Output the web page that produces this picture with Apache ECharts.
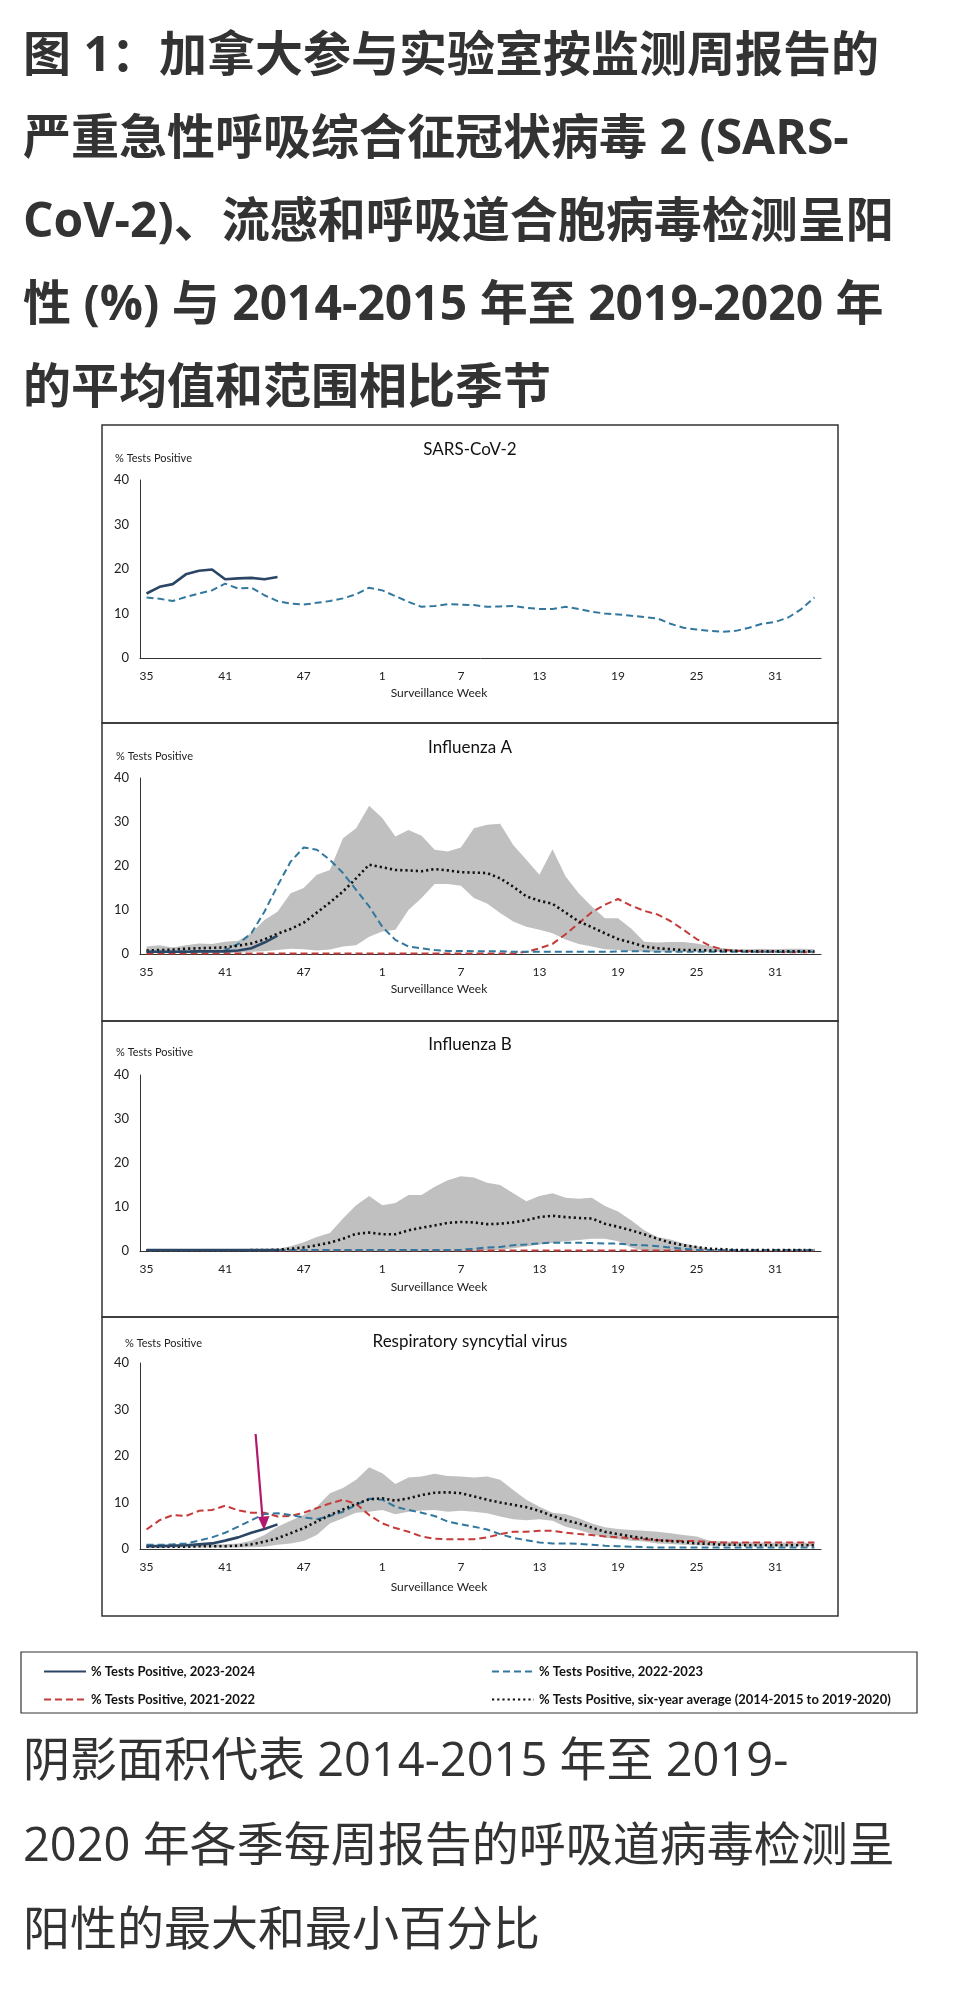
<!DOCTYPE html>
<html>
<head>
<meta charset="utf-8">
<script src="https://cdn.jsdelivr.net/npm/echarts@6/dist/echarts.min.js"></script>
<style>
  html,body{margin:0;padding:0;background:#fff;}
  body{width:956px;height:1997px;position:relative;overflow:hidden;}
  #chart{position:absolute;left:0;top:0;width:956px;height:1997px;}
  .txt{position:absolute;left:23px;white-space:nowrap;color:#333;font-family:"Open Sans","Noto Sans CJK SC",sans-serif;}
  #title{top:11px;font-weight:bold;font-size:48px;line-height:83px;}
  #note{top:1716px;font-weight:normal;font-size:47px;line-height:84.5px;}
</style>
</head>
<body>
<div id="chart"></div>
<div id="title" class="txt">图 1：加拿大参与实验室按监测周报告的<br>严重急性呼吸综合征冠状病毒 2 (SARS-<br>CoV-2)、流感和呼吸道合胞病毒检测呈阳<br>性 (%) 与 2014-2015 年至 2019-2020 年<br>的平均值和范围相比季节</div>
<div id="note" class="txt">阴影面积代表 2014-2015 年至 2019-<br>2020 年各季每周报告的呼吸道病毒检测呈<br>阳性的最大和最小百分比</div>
<script>
// ---- categories ----
const weeks = [35,36,37,38,39,40,41,42,43,44,45,46,47,48,49,50,51,52,1,2,3,4,5,6,7,8,9,10,11,12,13,14,15,16,17,18,19,20,21,22,23,24,25,26,27,28,29,30,31,32,33,34];
const yTicks = [0,10,20,30,40];

// ---- legend names ----
const S_CUR = '% Tests Positive, 2023-2024';
const S_PREV = '% Tests Positive, 2022-2023';
const S_PREV2 = '% Tests Positive, 2021-2022';
const S_AVG = '% Tests Positive, six-year average (2014-2015 to 2019-2020)';

// ---- SARS-CoV-2 ----
const sarsCurrent = [14.5,16.0,16.6,18.8,19.6,19.9,17.7,17.9,18.0,17.7,18.2];
const sarsPrev = [13.6,13.3,12.8,13.7,14.5,15.2,16.7,15.6,15.8,14.1,
  12.8,12.2,12.0,12.4,12.8,13.4,14.3,15.8,15.2,13.9,
  12.6,11.5,11.7,12.1,12.0,11.9,11.5,11.6,11.7,11.3,
  11.0,11.0,11.5,11.0,10.4,10.0,9.8,9.5,9.2,8.9,
  7.7,6.8,6.4,6.1,5.9,6.1,6.8,7.7,8.1,9.1,
  11.0,13.6];

// ---- Influenza A ----
const fluAMax = [1.7,2.0,1.5,2.0,2.4,2.3,2.8,3.0,4.7,7.7,
  9.6,13.8,15.0,18.0,19.1,26.3,28.6,33.7,30.9,26.7,
  28.2,26.9,23.7,23.3,24.2,28.6,29.4,29.6,24.8,21.4,
  18.0,23.8,17.6,13.8,10.8,8.1,8.1,5.8,2.8,2.6,
  2.7,2.7,2.4,1.8,1.3,1.1,1.1,1.2,1.1,1.2,
  1.2,1.1];
const fluAMin = [0.3,0.3,0.3,0.3,0.3,0.3,0.3,0.3,0.5,0.6,
  0.9,1.2,1.1,0.8,1.0,1.7,2.0,3.9,5.1,5.5,
  10.0,12.7,15.9,15.9,15.5,12.7,11.5,9.3,7.4,6.2,
  5.5,4.7,3.3,2.3,1.7,1.1,0.9,0.6,0.5,0.5,
  0.5,0.5,0.5,0.5,0.5,0.5,0.5,0.5,0.5,0.5,
  0.5,0.5];
const fluAAvg = [0.8,0.9,1.0,1.2,1.3,1.4,1.5,1.9,2.4,3.3,
  4.6,5.7,7.1,9.4,11.7,14.2,17.2,20.3,19.7,19.1,
  19.0,18.8,19.3,19.0,18.6,18.5,18.4,17.2,15.3,13.1,
  12.1,11.4,9.4,7.4,6.1,4.7,3.4,2.6,1.7,1.3,
  1.1,0.9,0.9,0.8,0.7,0.7,0.6,0.6,0.6,0.6,
  0.6,0.6];
const fluAPrev = [0.5,0.5,0.5,0.6,0.6,0.7,0.8,2.3,4.7,9.6,
  15.5,21.0,24.2,23.7,21.4,18.4,14.6,10.8,6.2,3.2,
  1.7,1.3,0.9,0.7,0.7,0.6,0.6,0.6,0.5,0.5,
  0.5,0.5,0.5,0.5,0.5,0.5,0.6,0.6,0.6,0.5,
  0.5,0.5,0.5,0.5,0.5,0.5,0.5,0.5,0.5,0.5,
  0.5,0.5];
const fluAPrev2 = [0.1,0.1,0.1,0.1,0.1,0.1,0.1,0.1,0.1,0.1,
  0.1,0.1,0.1,0.1,0.1,0.1,0.1,0.1,0.1,0.1,
  0.1,0.1,0.1,0.1,0.1,0.1,0.1,0.1,0.1,0.5,
  1.3,2.3,4.5,7.0,9.5,11.2,12.5,11.0,9.8,9.0,
  7.5,5.5,3.4,1.9,1.0,0.7,0.6,0.5,0.5,0.4,
  0.4,0.4];
const fluACurrent = [0.5,0.5,0.5,0.5,0.6,0.6,0.6,0.8,1.3,2.6,4.2];

// ---- Influenza B ----
const fluBMax = [0.4,0.4,0.4,0.4,0.4,0.4,0.4,0.4,0.4,0.4,
  0.5,1.1,2.0,3.2,4.1,7.4,10.4,12.5,10.4,10.9,
  12.7,12.7,14.6,16.1,17.0,16.7,15.5,15.0,13.1,11.3,
  12.5,13.1,12.1,11.9,12.1,10.2,9.0,7.0,4.7,3.2,
  2.6,1.7,1.1,0.5,0.3,0.2,0.2,0.2,0.2,0.2,
  0.2,0.2];
const fluBMin = [0,0,0,0,0,0,0,0,0,0,
  0,0,0,0,0,0,0,0,0,0,
  0,0,0,0,0,0,0.1,0.3,0.6,1.0,
  1.5,1.9,2.2,2.5,2.8,2.8,2.2,0.8,0,0,
  0,0,0,0,0,0,0,0,0,0,
  0,0];
const fluBAvg = [0.1,0.1,0.1,0.1,0.1,0.1,0.1,0.1,0.2,0.2,
  0.3,0.5,0.8,1.3,1.9,2.8,3.9,4.2,3.8,3.8,
  4.7,5.3,5.8,6.4,6.6,6.5,6.1,6.2,6.5,7.0,
  7.7,8.0,7.7,7.5,7.4,6.2,5.5,4.7,3.8,2.8,
  1.9,1.3,0.9,0.5,0.4,0.2,0.2,0.2,0.2,0.2,
  0.2,0.2];
const fluBPrev = [0.2,0.2,0.2,0.2,0.2,0.2,0.2,0.2,0.2,0.2,
  0.2,0.2,0.2,0.2,0.2,0.2,0.2,0.2,0.2,0.2,
  0.2,0.2,0.2,0.2,0.3,0.5,0.8,0.9,1.3,1.5,
  1.7,1.9,1.9,1.9,1.8,1.7,1.7,1.4,1.3,1.1,
  0.8,0.5,0.3,0.2,0.2,0.2,0.2,0.2,0.2,0.2,
  0.2,0.2];
const fluBPrev2 = [0.1,0.1,0.1,0.1,0.1,0.1,0.1,0.1,0.1,0.1,
  0.1,0.1,0.1,0.1,0.1,0.1,0.1,0.1,0.1,0.1,
  0.1,0.1,0.1,0.1,0.1,0.1,0.1,0.1,0.1,0.1,
  0.1,0.1,0.1,0.1,0.1,0.1,0.1,0.1,0.1,0.1,
  0.1,0.1,0.1,0.1,0.1,0.1,0.1,0.1,0.1,0.1,
  0.1,0.1];
const fluBCurrent = [0.2,0.2,0.2,0.2,0.2,0.2,0.2,0.2,0.2,0.2,0.2];

// ---- RSV ----
const rsvMax = [1.0,1.0,1.0,1.0,1.0,1.0,1.0,1.2,1.8,3.0,
  4.8,6.1,7.3,9.1,12.0,13.1,14.9,17.6,16.3,14.0,
  15.4,15.6,16.2,15.7,15.6,15.4,15.6,14.9,12.7,10.6,
  9.1,7.8,7.5,6.6,5.5,4.7,4.3,4.1,3.9,3.7,
  3.4,3.0,2.7,1.8,1.6,1.5,1.5,1.4,1.4,1.4,
  1.4,1.3];
const rsvMin = [0.3,0.3,0.3,0.3,0.3,0.3,0.3,0.3,0.4,0.5,
  0.9,1.2,1.7,3.0,5.5,6.6,7.8,8.0,8.4,7.5,
  8.0,8.3,8.4,8.0,8.2,8.0,7.7,7.0,6.4,6.2,
  6.4,6.1,4.8,4.1,3.2,2.5,2.1,1.8,1.6,1.2,
  1.1,0.9,0.8,0.7,0.7,0.6,0.6,0.6,0.6,0.6,
  0.6,0.6];
const rsvAvg = [0.5,0.5,0.5,0.5,0.6,0.6,0.6,0.7,1.0,1.6,
  2.3,3.4,4.5,5.9,7.3,8.5,9.7,10.7,10.9,10.4,
  10.9,11.6,12.1,12.2,12.0,11.3,10.6,10.0,9.5,9.0,
  8.2,7.1,6.2,5.5,4.6,3.7,3.2,2.7,2.3,1.9,
  1.7,1.5,1.2,1.1,0.9,0.9,0.8,0.8,0.8,0.8,
  0.8,0.8];
const rsvPrev = [0.9,0.9,1.0,1.2,1.8,2.5,3.5,4.8,6.2,7.5,
  7.7,7.3,6.8,6.4,7.1,8.0,9.5,10.8,10.6,9.1,
  8.4,7.8,7.1,5.9,5.3,4.8,4.2,3.2,2.4,1.9,
  1.4,1.2,1.2,1.1,0.9,0.7,0.6,0.5,0.4,0.3,
  0.3,0.3,0.3,0.3,0.3,0.3,0.3,0.3,0.3,0.3,
  0.3,0.3];
const rsvPrev2 = [4.2,6.2,7.3,7.1,8.2,8.4,9.3,8.3,7.8,7.8,
  7.0,7.1,7.8,8.8,9.8,10.6,9.7,7.3,5.5,4.5,
  3.7,2.7,2.2,2.1,2.1,2.1,2.5,3.2,3.7,3.7,
  3.9,3.9,3.5,3.2,3.0,2.7,2.5,2.3,2.1,1.9,
  1.8,1.7,1.7,1.5,1.4,1.4,1.4,1.4,1.4,1.4,
  1.4,1.4];
const rsvCurrent = [0.6,0.6,0.7,0.8,1.0,1.2,1.8,2.5,3.5,4.3,5.3];

// ---- panel titles ----
const panelTitles = ['SARS-CoV-2','Influenza A','Influenza B','Respiratory syncytial virus'];

// ---------------- layout (styles/positions) ----------------
const C_CUR = '#2b4665', C_PREV = '#32789e', C_PREV2 = '#c43c3a', C_AVG = '#111111', C_BAND = '#c0c0c0';
const FONT = 'Lato, "Liberation Sans", sans-serif';
const grids = [
  {left:140, top:480, width:681, height:178},
  {left:140, top:778, width:681, height:176},
  {left:140, top:1075, width:681, height:176},
  {left:140, top:1363, width:681, height:186}
];
const panelBox = [[425,723],[723,1021],[1021,1317],[1317,1616]];
const titleY = [450,748,1045,1342];
const yNameY = [458,756,1052,1343];
const yNameX = [115,116,116,125];
const xNameY = [693,989,1287,1587];

const xAxes = grids.map((g,i)=>({
  type:'category', gridIndex:i, data:weeks, boundaryGap:true,
  axisLine:{show:true, lineStyle:{color:'#333', width:1}},
  axisTick:{show:false},
  axisLabel:{interval:5, color:'#222', fontSize:12, fontFamily:FONT, margin:12}
}));
const yAxes = grids.map((g,i)=>({
  type:'value', gridIndex:i, min:yTicks[0], max:yTicks[yTicks.length-1], interval:10,
  axisLine:{show:true, lineStyle:{color:'#333', width:1}},
  axisTick:{show:false}, splitLine:{show:false},
  axisLabel:{color:'#222', fontSize:13, fontFamily:FONT, margin:11}
}));

function line(name, data, gi, kind){
  const st = {
    cur:{color:C_CUR, width:2.6, type:'solid'},
    prev:{color:C_PREV, width:2, type:[7,4]},
    prev2:{color:C_PREV2, width:2, type:[7,4]},
    avg:{color:C_AVG, width:2.6, type:[2.2,3]}
  }[kind];
  return {name, type:'line', xAxisIndex:gi, yAxisIndex:gi, data, symbol:'none', smooth:false,
    itemStyle:{color:st.color}, lineStyle:st, emphasis:{disabled:true}, animation:false,
    z: kind==='cur'?6:(kind==='avg'?5:4)};
}
function band(minArr, maxArr, gi){
  const diff = maxArr.map((v,i)=>Math.max(0, +(v - minArr[i]).toFixed(2)));
  return [
    {name:'range-lo-'+gi, type:'line', xAxisIndex:gi, yAxisIndex:gi, data:minArr, stack:'band'+gi,
      symbol:'none', lineStyle:{opacity:0}, animation:false, z:1, silent:true},
    {name:'range-hi-'+gi, type:'line', xAxisIndex:gi, yAxisIndex:gi, data:diff, stack:'band'+gi,
      symbol:'none', lineStyle:{opacity:0}, areaStyle:{color:C_BAND, opacity:1}, animation:false, z:1, silent:true}
  ];
}

const series = [
  line(S_PREV, sarsPrev, 0, 'prev'),
  line(S_CUR, sarsCurrent, 0, 'cur'),

  ...band(fluAMin, fluAMax, 1),
  line(S_PREV2, fluAPrev2, 1, 'prev2'),
  line(S_PREV, fluAPrev, 1, 'prev'),
  line(S_AVG, fluAAvg, 1, 'avg'),
  line(S_CUR, fluACurrent, 1, 'cur'),

  ...band(fluBMin, fluBMax, 2),
  line(S_PREV2, fluBPrev2, 2, 'prev2'),
  line(S_PREV, fluBPrev, 2, 'prev'),
  line(S_AVG, fluBAvg, 2, 'avg'),
  line(S_CUR, fluBCurrent, 2, 'cur'),

  ...band(rsvMin, rsvMax, 3),
  line(S_PREV2, rsvPrev2, 3, 'prev2'),
  line(S_PREV, rsvPrev, 3, 'prev'),
  line(S_AVG, rsvAvg, 3, 'avg'),
  line(S_CUR, rsvCurrent, 3, 'cur')
];

const graphics = [];
panelBox.forEach((b,i)=>{
  graphics.push({type:'rect', shape:{x:102, y:b[0], width:736, height:b[1]-b[0]},
    style:{fill:'none', stroke:'#333', lineWidth:1.5}, z:0});
  graphics.push({type:'text', x:470, y:titleY[i], style:{text:panelTitles[i], fill:'#111', font:'17px '+FONT, textAlign:'center', textVerticalAlign:'middle'}});
  graphics.push({type:'text', x:yNameX[i], y:yNameY[i], style:{text:'% Tests Positive', fill:'#222', font:'11px '+FONT, textAlign:'left', textVerticalAlign:'middle'}});
  graphics.push({type:'text', x:439, y:xNameY[i], style:{text:'Surveillance Week', fill:'#222', font:'12px '+FONT, textAlign:'center', textVerticalAlign:'middle'}});
});
// legend box
graphics.push({type:'rect', shape:{x:21, y:1652, width:896, height:61}, style:{fill:'none', stroke:'#333', lineWidth:1.2}});
// annotation arrow (RSV panel)
graphics.push({type:'line', shape:{x1:255.6, y1:1434, x2:262.6, y2:1519}, style:{stroke:'#b3186f', lineWidth:2.2}, z:20});
graphics.push({type:'polygon', shape:{points:[[258,1517],[269.5,1516],[264,1530]]}, style:{fill:'#b3186f'}, z:20});

const legendText = {color:'#111', fontSize:13, fontWeight:'bold', fontFamily:FONT};
const legendSym = {color:'rgba(0,0,0,0)', borderColor:'rgba(0,0,0,0)', borderWidth:0, opacity:0};
const option = {
  animation:false,
  grid:grids,
  xAxis:xAxes,
  yAxis:yAxes,
  legend:[
    {data:[S_CUR, S_PREV2], orient:'vertical', left:38, top:1660, itemWidth:42, itemHeight:14, itemGap:15,
      itemStyle:legendSym, textStyle:legendText, selectedMode:true},
    {data:[S_PREV, S_AVG], orient:'vertical', left:486, top:1660, itemWidth:42, itemHeight:14, itemGap:15,
      itemStyle:legendSym, textStyle:legendText, selectedMode:true}
  ],
  graphic:graphics,
  series
};
const chart = echarts.init(document.getElementById('chart'), null, {renderer:'canvas'});
chart.setOption(option);
</script>
</body>
</html>
